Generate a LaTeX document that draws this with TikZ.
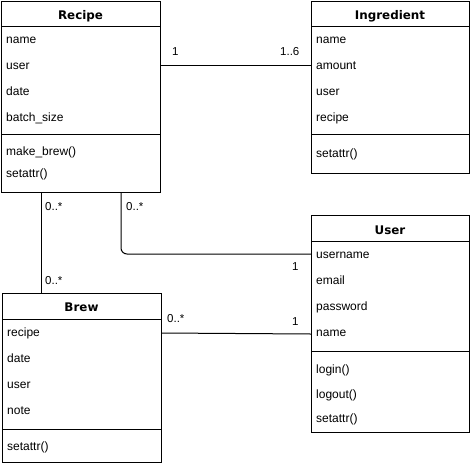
\documentclass[tikz,border=0pt]{standalone}
\usepackage{fontspec}
\setmainfont{Liberation Sans}
\newfontfamily\titlefam{DejaVu Sans}
\begin{document}
\begin{tikzpicture}[x=1pt,y=-1pt,
  box/.style={draw, line width=1pt, rectangle, inner sep=0pt, anchor=north west},
  sep/.style={line width=1pt},
  conn/.style={line width=1pt},
  attr/.style={anchor=base west, inner sep=0pt, font=\fontsize{12}{14}\selectfont},
  ttl/.style={anchor=base, inner sep=0pt, font=\titlefam\bfseries\fontsize{11.9}{14}\selectfont},
  mult/.style={anchor=base west, inner sep=0pt, font=\fontsize{11.5}{14}\selectfont}]
\useasboundingbox (0,0) rectangle (471,464);
\fill[white] (0,0) rectangle (471,464);

% Recipe
\node[box, minimum width=159pt, minimum height=191pt] (recipe) at (1,1) {};
\draw[sep] (1,26) -- (160,26);
\draw[sep] (1,134) -- (160,134);
\node[ttl] (rt) at (80.5,19) {Recipe};
\node[attr] (r1) at (6,43) {name};
\node[attr] (r2) at (6,69) {user};
\node[attr] (r3) at (6,95) {date};
\node[attr] (r4) at (6,121) {batch\_size};
\node[attr] (r5) at (6,155) {make\_brew()};
\node[attr] (r6) at (6,177) {setattr()};

% Ingredient
\node[box, minimum width=158pt, minimum height=172pt] (ingr) at (311,1) {};
\draw[sep] (311,26) -- (469,26);
\draw[sep] (311,134) -- (469,134);
\node[ttl] (it) at (390,19) {Ingredient};
\node[attr] (i1) at (316,43) {name};
\node[attr] (i2) at (316,69) {amount};
\node[attr] (i3) at (316,95) {user};
\node[attr] (i4) at (316,121) {recipe};
\node[attr] (i5) at (316,157) {setattr()};

% User
\node[box, minimum width=158pt, minimum height=217pt] (user) at (311,215) {};
\draw[sep] (311,241) -- (469,241);
\draw[sep] (311,351) -- (469,351);
\node[ttl] (ut) at (390,234) {User};
\node[attr] (u1) at (316,258) {username};
\node[attr] (u2) at (316,284) {email};
\node[attr] (u3) at (316,310) {password};
\node[attr] (u4) at (316,336) {name};
\node[attr] (u5) at (316,373) {login()};
\node[attr] (u6) at (316,398) {logout()};
\node[attr] (u7) at (316,422) {setattr()};

% Brew
\node[box, minimum width=159pt, minimum height=169pt] (brew) at (2,293) {};
\draw[sep] (2,319) -- (161,319);
\draw[sep] (2,429) -- (161,429);
\node[ttl] (bt) at (81.5,311) {Brew};
\node[attr] (b1) at (7,336) {recipe};
\node[attr] (b2) at (7,362) {date};
\node[attr] (b3) at (7,388) {user};
\node[attr] (b4) at (7,414) {note};
\node[attr] (b5) at (7,450) {setattr()};

% connectors
\draw[conn] ([yshift=-64pt]recipe.north east) -- ([yshift=-64pt]ingr.north west);
\draw[conn] ([xshift=40pt]recipe.south west) -- ([xshift=39pt]brew.north west);
\draw[conn, rounded corners=6pt] ([xshift=120pt]recipe.south west) |- ([yshift=-39pt]user.north west);
\draw[conn] ([yshift=-40pt]brew.north east) -- ([yshift=-119pt]user.north west);

% multiplicities
\node[mult] (m1) at (172,55) {1};
\node[mult] (m2) at (280,55) {1..6};
\node[mult] (m3) at (45,210) {0..*};
\node[mult] (m4) at (45,284) {0..*};
\node[mult] (m5) at (126,210) {0..*};
\node[mult] (m6) at (292,270) {1};
\node[mult] (m7) at (167,322) {0..*};
\node[mult] (m8) at (292,325) {1};
\end{tikzpicture}
\end{document}
